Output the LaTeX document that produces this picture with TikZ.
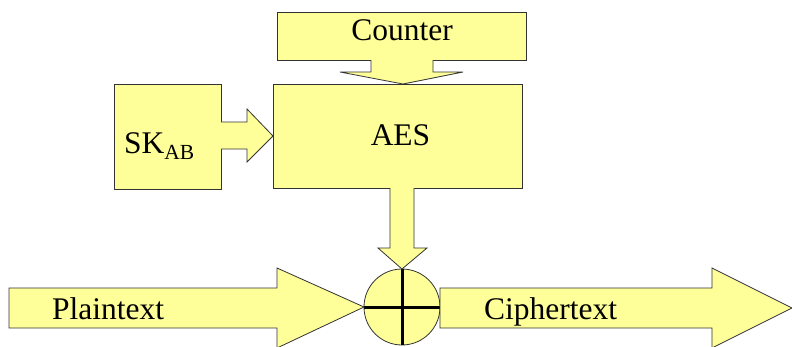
\documentclass[tikz,border=0pt]{standalone}
\usepackage{fontspec}
\setmainfont{Liberation Serif}
\begin{document}
\begin{tikzpicture}[x=1pt,y=-1pt,
  blk/.style={draw=black!80,fill=yelfill,line width=0.8pt,line join=miter},
  boxnode/.style={blk,rectangle,inner sep=0pt,outer sep=0pt},
  lbl/.style={inner sep=0pt,font=\fontsize{31.5}{36}\selectfont}]
\definecolor{yelfill}{HTML}{FFFF99}
\useasboundingbox (0,0) rectangle (792,346);
% boxes
\node[boxnode,minimum width=249pt,minimum height=48pt] (counter) at (401.5,36) {};
\node[boxnode,minimum width=249pt,minimum height=104pt] (aes) at (397.5,136) {};
\node[boxnode,minimum width=107pt,minimum height=105pt] (sk) at (167.5,136.5) {};
\node[blk,circle,minimum size=76pt,inner sep=0pt,outer sep=0pt] (xor) at (402,307) {};
\draw[line width=3pt] (xor.west) -- (xor.east);
\draw[line width=3pt] (xor.north) -- (xor.south);
% block arrows
\draw[blk] (371,60) -- (371,72) -- (340,72) -- (403,84) -- (463,72) -- (433,72) -- (433,60);
\draw[blk] (221,122) -- (247,122) -- (247,109) -- (aes.west |- 0,136) -- (247,162) -- (247,149) -- (221,149);
\draw[blk] (390,188) -- (390,248) -- (378,248) -- (xor.north) -- (427,248) -- (414,248) -- (414,188);
\coordinate (pstart) at (9,308);
\draw[blk] (9,288) -- (277,288) -- (277,268) -- (xor.west) -- (277,348) -- (277,328) -- (9,328) -- cycle;
\coordinate (cend) at (792,308);
\draw[blk] (xor.east |- 0,288) -- (712,288) -- (712,268) -- (cend) -- (712,348) -- (712,328) -- (xor.east |- 0,328) -- cycle;
% labels
\node[lbl,anchor=base] (tcounter) at (402,40) {Counter};
\node[lbl,anchor=base] (taes) at (400.5,145) {AES};
\node[lbl,anchor=base west] (tsk) at (124,153) {SK\raisebox{-6pt}{\fontsize{21.5}{24}\selectfont AB}};
\node[lbl,anchor=base west] (tplain) at (52,319) {Plaintext};
\node[lbl,anchor=base west] (tcipher) at (484,319) {Ciphertext};
\end{tikzpicture}
\end{document}
